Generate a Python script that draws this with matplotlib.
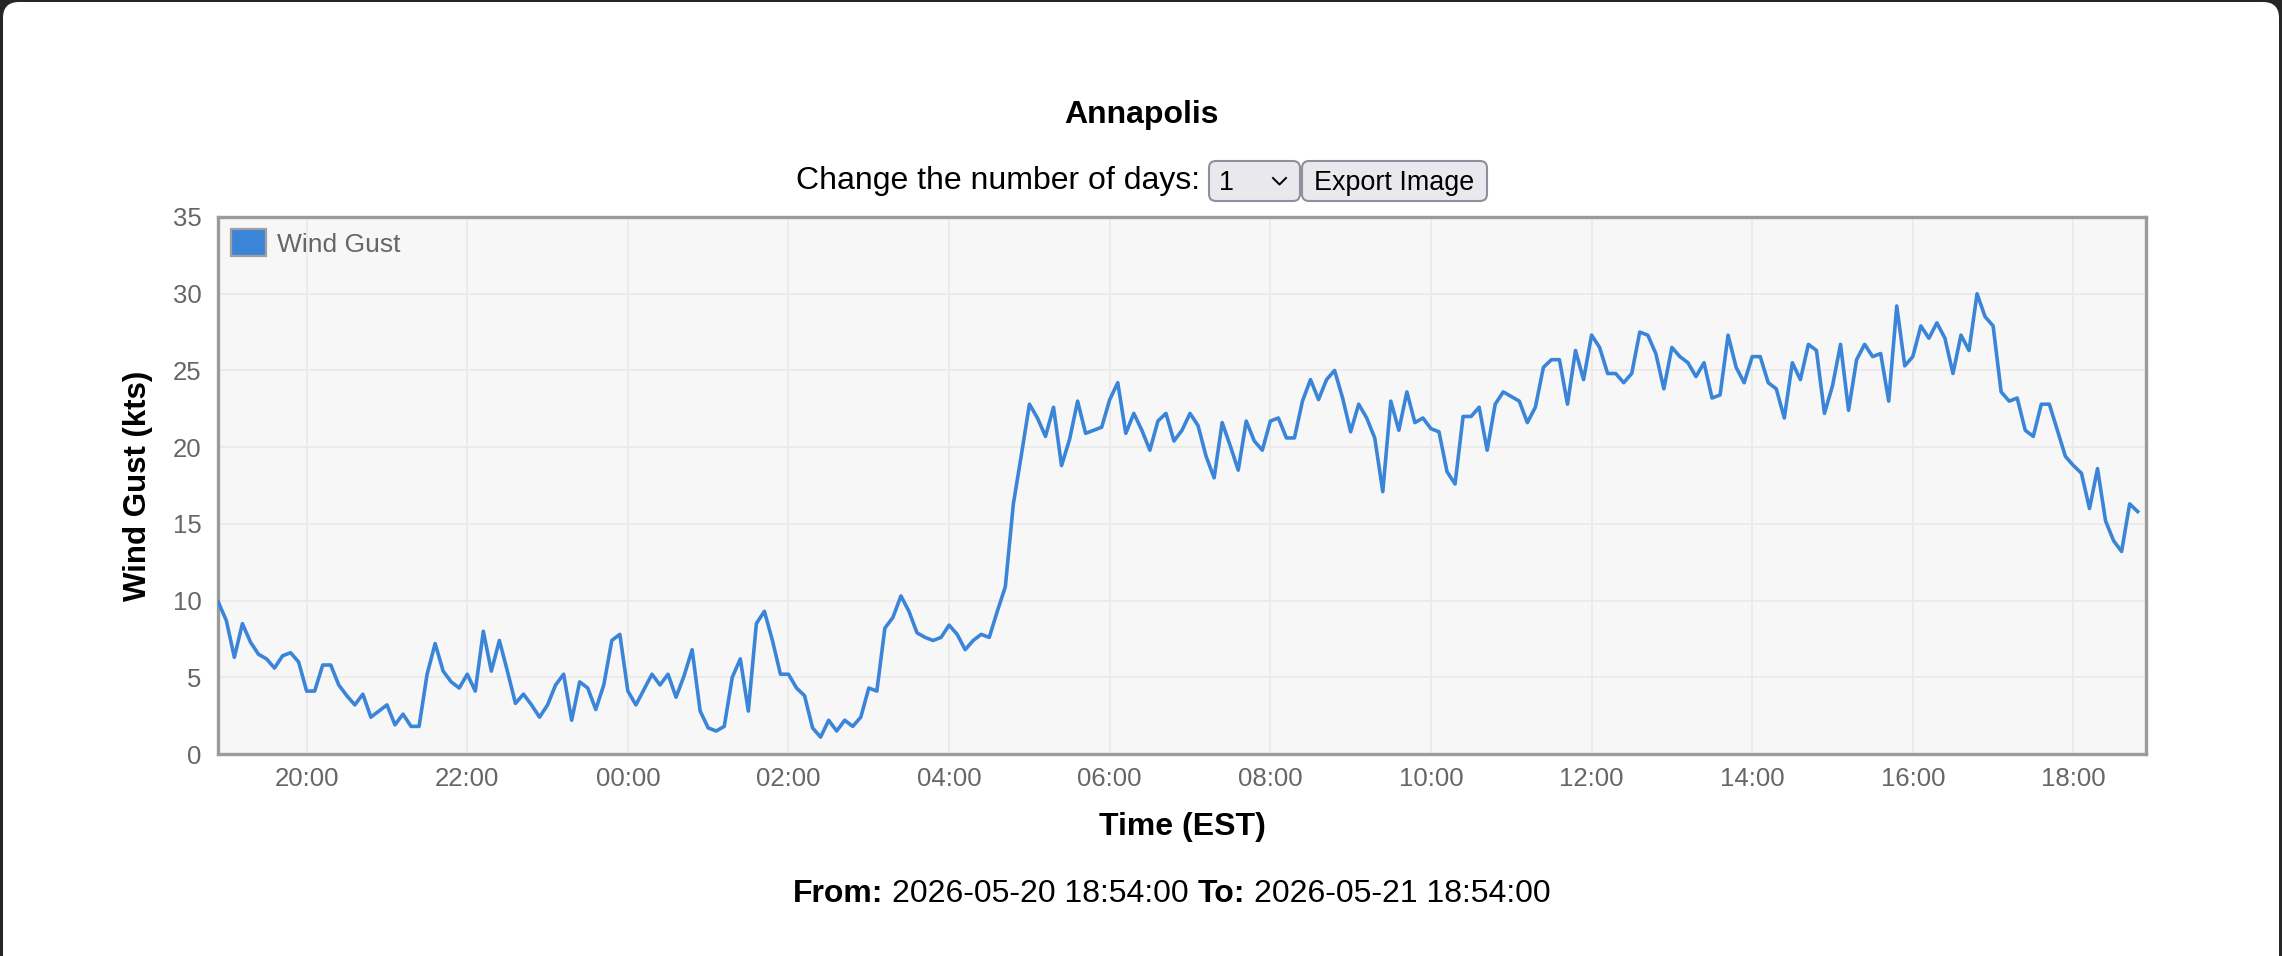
import matplotlib
matplotlib.use("Agg")
import matplotlib.pyplot as plt
import matplotlib.dates as mdates
from matplotlib.patches import FancyBboxPatch, Rectangle
from matplotlib.lines import Line2D
from matplotlib.transforms import Affine2D
import pandas as pd

plt.rcParams['font.family'] = ['Liberation Sans', 'DejaVu Sans']

# ---------------- data ----------------
station = "Annapolis"
series_name = "Wind Gust"
start_time = "2026-05-20 18:54:00"
end_time = "2026-05-21 18:54:00"
interval = "6min"
gust_kts = [
    9.9, 8.7, 6.3, 8.5, 7.3, 6.5, 6.2, 5.6, 6.4, 6.6,
    6.0, 4.1, 4.1, 5.8, 5.8, 4.5, 3.8, 3.2, 3.9, 2.4,
    2.8, 3.2, 1.9, 2.6, 1.8, 1.8, 5.2, 7.2, 5.4, 4.7,
    4.3, 5.2, 4.1, 8.0, 5.4, 7.4, 5.4, 3.3, 3.9, 3.2,
    2.4, 3.2, 4.5, 5.2, 2.2, 4.7, 4.3, 2.9, 4.5, 7.4,
    7.8, 4.1, 3.2, 4.2, 5.2, 4.5, 5.2, 3.7, 5.1, 6.8,
    2.8, 1.7, 1.5, 1.8, 5.0, 6.2, 2.8, 8.5, 9.3, 7.4,
    5.2, 5.2, 4.3, 3.8, 1.7, 1.1, 2.2, 1.5, 2.2, 1.8,
    2.4, 4.3, 4.1, 8.2, 8.9, 10.3, 9.3, 7.9, 7.6, 7.4,
    7.6, 8.4, 7.8, 6.8, 7.4, 7.8, 7.6, 9.3, 10.9, 16.3,
    19.5, 22.8, 21.9, 20.7, 22.6, 18.8, 20.5, 23.0, 20.9, 21.1,
    21.3, 23.1, 24.2, 20.9, 22.2, 21.1, 19.8, 21.7, 22.2, 20.4,
    21.1, 22.2, 21.4, 19.4, 18.0, 21.6, 20.1, 18.5, 21.7, 20.4,
    19.8, 21.7, 21.9, 20.6, 20.6, 23.0, 24.4, 23.1, 24.4, 25.0,
    23.2, 21.0, 22.8, 21.9, 20.6, 17.1, 23.0, 21.1, 23.6, 21.6,
    21.9, 21.2, 21.0, 18.4, 17.6, 22.0, 22.0, 22.6, 19.8, 22.8,
    23.6, 23.3, 23.0, 21.6, 22.6, 25.2, 25.7, 25.7, 22.8, 26.3,
    24.4, 27.3, 26.5, 24.8, 24.8, 24.2, 24.8, 27.5, 27.3, 26.1,
    23.8, 26.5, 25.9, 25.5, 24.6, 25.5, 23.2, 23.4, 27.3, 25.2,
    24.2, 25.9, 25.9, 24.2, 23.8, 21.9, 25.5, 24.4, 26.7, 26.3,
    22.2, 24.0, 26.7, 22.4, 25.7, 26.7, 25.9, 26.1, 23.0, 29.2,
    25.3, 25.9, 27.9, 27.1, 28.1, 27.1, 24.8, 27.3, 26.3, 30.0,
    28.5, 27.9, 23.6, 23.0, 23.2, 21.1, 20.7, 22.8, 22.8, 21.1,
    19.4, 18.8, 18.3, 16.0, 18.6, 15.2, 13.9, 13.2, 16.3, 15.8,
]
y_ticks = [0, 5, 10, 15, 20, 25, 30, 35]
times = pd.date_range(start_time, periods=len(gust_kts), freq=interval)

# ---------------- figure ----------------
W, H = 2282, 956
fig = plt.figure(figsize=(W / 100, H / 100), dpi=100, facecolor='#262626')
pxt = Affine2D().scale(1 / 100) + fig.dpi_scale_trans   # pixel coords, origin bottom-left

card = FancyBboxPatch((3, -40), W - 6, H - 2 + 40,
                      boxstyle="round,pad=0,rounding_size=16",
                      transform=pxt, facecolor='white', edgecolor='none', zorder=-10)
fig.add_artist(card)

# header
fig.text(1141, H - 123, station, transform=pxt, fontsize=23, fontweight='bold',
         ha='center', va='baseline', color='black')
fig.text(1200, H - 189, "Change the number of days:", transform=pxt, fontsize=23,
         ha='right', va='baseline', color='black')
sel = FancyBboxPatch((1209, H - 201), 91, 40, boxstyle="round,pad=0,rounding_size=7",
                     transform=pxt, facecolor='#e9e9ed', edgecolor='#8f8f9d', lw=1.5)
fig.add_artist(sel)
fig.text(1226.5, H - 190, "1", transform=pxt, fontsize=19.4, ha='center',
         va='baseline', color='black')
fig.add_artist(Line2D([1273, 1279.5, 1286], [H - 178, H - 184.5, H - 178],
                      transform=pxt, color='black', lw=1.4))
btn = FancyBboxPatch((1302, H - 201), 185, 40, boxstyle="round,pad=0,rounding_size=7",
                     transform=pxt, facecolor='#e9e9ed', edgecolor='#8f8f9d', lw=1.5)
fig.add_artist(btn)
fig.text(1394.5, H - 190, "Export Image", transform=pxt, fontsize=19.4, ha='center',
         va='baseline', color='black')

# axes
L, R, T, B = 218.3, 2145.7, 217, 754
ax = fig.add_axes([L / W, (H - B) / H, (R - L) / W, (B - T) / H])
ax.set_facecolor('#f7f7f7')
ax.plot(times, gust_kts, color='#3a85d8', lw=2.6, solid_joinstyle='round',
        label=series_name, zorder=3)
ax.set_xlim(pd.Timestamp(start_time), pd.Timestamp(end_time))
ax.set_ylim(0, 35)
ax.set_yticks(y_ticks)
ax.xaxis.set_major_locator(mdates.HourLocator(byhour=range(0, 24, 2)))
ax.xaxis.set_major_formatter(mdates.DateFormatter('%H:%M'))
ax.grid(True, color='#ebebeb', lw=1.4)
ax.set_axisbelow(True)
for s in ax.spines.values():
    s.set_color('#9b9b9b')
    s.set_linewidth(2.4)
ax.tick_params(axis='both', length=0, labelsize=18.5, labelcolor='#666666')
ax.tick_params(axis='y', pad=12)
ax.tick_params(axis='x', pad=9.5)

ax.set_ylabel("Wind Gust (kts)", fontsize=22.5, fontweight='bold', color='black')
ax.yaxis.set_label_coords((138 - L) / (R - L), 0.5)
ax.yaxis.label.set_va('center')
ax.set_xlabel("Time (EST)", fontsize=23, fontweight='bold', color='black')
ax.xaxis.set_label_coords(0.5, (B - 827) / (B - T))
ax.xaxis.label.set_va('center')

# legend (Chart.js style box + label)
fig.add_artist(Rectangle((231, H - 256), 35, 27, transform=pxt,
                         facecolor='#3a85d8', edgecolor='#a0a0a0', lw=1.6, zorder=5))
fig.text(277, H - 252, series_name, transform=pxt, fontsize=19, color='#666666',
         ha='left', va='baseline', zorder=5)

# footer with mixed weights
renderer = fig.canvas.get_renderer()
parts = [("From:", 'bold'), ("2026-05-20 18:54:00", 'normal'),
         ("To:", 'bold'), ("2026-05-21 18:54:00", 'normal')]
x = 793
space = 0.278 * 32
for txt, wt in parts:
    t = fig.text(x, H - 902, txt, transform=pxt, fontsize=23, fontweight=wt,
                 ha='left', va='baseline', color='black')
    bb = t.get_window_extent(renderer)
    x += bb.width + space

fig.savefig("out.png", dpi=100, facecolor=fig.get_facecolor())
